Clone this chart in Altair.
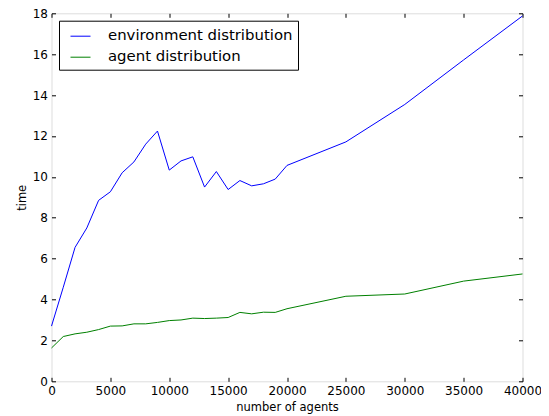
import altair as alt
import pandas as pd

agents = [0, 1000, 2000, 3000, 4000, 5000, 6000, 7000, 8000, 9000, 10000,
          11000, 12000, 13000, 14000, 15000, 16000, 17000, 18000, 19000, 20000,
          25000, 30000, 35000, 40000]
env_time = [2.7, 4.6, 6.55, 7.5, 8.85, 9.27, 10.2, 10.73, 11.6, 12.24, 10.33,
            10.78, 10.98, 9.5, 10.26, 9.38, 9.82, 9.56, 9.66, 9.89, 10.56,
            11.71, 13.54, 15.72, 17.87]
agent_time = [1.63, 2.19, 2.32, 2.40, 2.53, 2.70, 2.71, 2.81, 2.81, 2.88, 2.97,
              3.0, 3.09, 3.07, 3.09, 3.12, 3.37, 3.30, 3.38, 3.37, 3.55,
              4.16, 4.27, 4.90, 5.25]
series = ["environment distribution", "agent distribution"]
colors = ["#0000ff", "#008000"]
x_ticks = [0, 5000, 10000, 15000, 20000, 25000, 30000, 35000, 40000]
y_ticks = [0, 2, 4, 6, 8, 10, 12, 14, 16, 18]

rows = []
for a, e, g in zip(agents, env_time, agent_time):
    rows.append({"agents": a, "time": e, "series": series[0]})
    rows.append({"agents": a, "time": g, "series": series[1]})
df = pd.DataFrame(rows)

FONT = "DejaVu Sans"
W, H = 471, 368

xscale = alt.Scale(domain=[0, 40000], nice=False, zero=False)
yscale = alt.Scale(domain=[0, 18], nice=False, zero=False)

common_axis = dict(offset=-4, tickSize=4, domain=False, grid=False,
                   tickColor="black", tickWidth=1, labelFlush=False,
                   labelOverlap=False)

lines = alt.Chart(df).mark_line(strokeWidth=1).encode(
    x=alt.X("agents:Q", scale=xscale,
            axis=alt.Axis(orient="bottom", values=x_ticks, format="d",
                          title="number of agents", labelPadding=4,
                          labelFontSize=12, labelFont=FONT, labelColor="black",
                          titleFont=FONT, titleFontSize=11.5, titleFontWeight="normal",
                          titleColor="black", titleY=29.7, titleBaseline="middle",
                          **common_axis)),
    y=alt.Y("time:Q", scale=yscale,
            axis=alt.Axis(orient="left", values=y_ticks, title="time",
                          labelPadding=4, labelFontSize=12, labelFont=FONT,
                          labelColor="black", titleFont=FONT, titleFontSize=11.5,
                          titleFontWeight="normal", titleColor="black",
                          titleX=-33.5, titleY=H / 2, titleBaseline="middle",
                          **common_axis)),
    color=alt.Color("series:N", sort=series,
                    scale=alt.Scale(domain=series, range=colors),
                    legend=alt.Legend(title=None, orient="none", legendX=7.5, legendY=7.4,
                                      symbolType="stroke", symbolSize=400,
                                      symbolStrokeWidth=1, labelFontSize=14.9,
                                      labelFont=FONT, labelColor="black",
                                      labelLimit=0, labelOffset=17, strokeColor="black",
                                      fillColor="white", padding=5, symbolOffset=6,
                                      rowPadding=3, cornerRadius=0)),
)

frame_ticks = alt.Chart(df).mark_line(opacity=0).encode(
    x=alt.X("agents:Q", scale=xscale,
            axis=alt.Axis(orient="top", values=x_ticks, labels=False, title=None,
                          **common_axis)),
    y=alt.Y("time:Q", scale=yscale,
            axis=alt.Axis(orient="right", values=y_ticks, labels=False, title=None,
                          **common_axis)),
    detail="series:N",
)

chart = alt.layer(lines, frame_ticks).resolve_axis(
    x="independent", y="independent"
).properties(
    width=W, height=H,
    autosize=alt.AutoSizeParams(type="none"),
    padding={"left": 43.5, "top": 5.3, "right": 18.5, "bottom": 34.7},
).configure_view(stroke="black", strokeWidth=1).configure(background="white")

chart.save("out.html", embed_options={"renderer": "svg", "actions": False})
